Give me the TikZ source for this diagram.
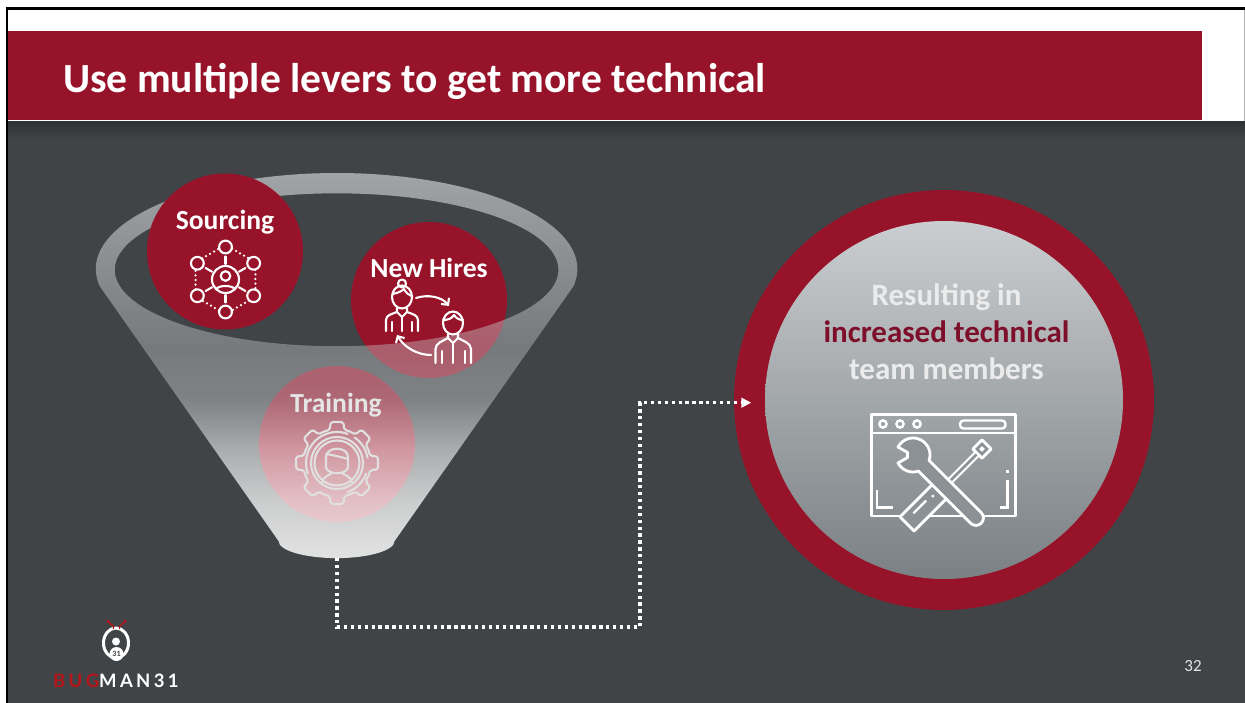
\documentclass[tikz,border=0pt]{standalone}
\usepackage{fontspec}
\setmainfont{Carlito}
\newfontfamily\logofont{Lato}
\usetikzlibrary{positioning, arrows.meta, calc, fadings}

\definecolor{slide}{HTML}{404447}
\definecolor{crimson}{HTML}{971329}
\definecolor{toolfill}{HTML}{8C9195}
\definecolor{darkcrimson}{HTML}{7D0F2A}
\definecolor{logored}{HTML}{B8151B}
\definecolor{resulttop}{HTML}{CBCED0}
\definecolor{resultbottom}{HTML}{7A8084}
\definecolor{funnelgray}{HTML}{C8CCCF}
\definecolor{funnelrim}{HTML}{CCD0D3}

% Funnel gradient
\pgfdeclareverticalshading{funnelcolor}{100bp}{color(0bp)=(white); color(39bp)=(white); color(45.5bp)=(funnelgray); color(52bp)=(funnelgray); color(75bp)=(funnelrim); color(100bp)=(funnelrim)}
\pgfdeclareverticalshading{funnelalpha}{100bp}{color(0bp)=(transparent!15); color(25bp)=(transparent!15); color(32.5bp)=(transparent!27); color(39bp)=(transparent!44); color(45.5bp)=(transparent!54); color(52bp)=(transparent!60); color(75bp)=(transparent!30); color(100bp)=(transparent!30)}
\pgfdeclarefading{funnelfade}{\pgfuseshading{funnelalpha}}

\begin{document}
\begin{tikzpicture}[x=1pt,y=-1pt,
  lever/.style={circle,fill=crimson,minimum size=156pt,inner sep=0pt},
  levertext/.style={font=\bfseries\fontsize{27.6}{30}\selectfont,text=white,inner sep=0pt},
  iconline/.style={draw=white,line width=2.1pt,line cap=round,line join=round},
  toolline/.style={draw=white,line width=2.8pt,line join=round},
  dotline/.style={draw=white,line width=3.3pt,dash pattern=on 3.3pt off 3.6pt}]
\useasboundingbox (0,0) rectangle (1245,703);

% Slide
\fill[white] (0,0) rectangle (1245,703);
\fill[slide] (8,121.5) rectangle (1245,703);
\shade[top color=black!25!slide,bottom color=slide] (8,121.5) rectangle (1245,140);
\fill[crimson] (8,31) rectangle (1202,120);
\draw[line width=3pt] (6,8.5) -- (1245,8.5);
\draw[line width=2.5pt] (7,8) -- (7,703);
\draw[black!30,line width=1pt] (1244.5,10) -- (1244.5,121);

\node[anchor=west,inner sep=0pt,text=white,font=\bfseries\fontsize{41.5}{44}\selectfont] (title) at (63,81.5) {Use multiple levers to get more technical};

% Levers under the funnel
\node[lever] (hires) at (429,300) {};
\node[lever] (training) at (337,444) {};

% Funnel
\shade[shading=funnelcolor,path fading=funnelfade,even odd rule]
  (100,286) arc[start angle=169.6,end angle=370.4,x radius=241,y radius=96]
  -- (395,541) arc[start angle=0,end angle=180,x radius=58,y radius=17] -- cycle
  (337,269.5) ellipse[x radius=222,y radius=76.5];
\coordinate (funnelbottom) at (337,558);

% Sourcing
\node[lever] (sourcing) at (225,251.5) {};
\node[levertext,above=29.5pt of sourcing.center,anchor=center] (sourcinglabel) {Sourcing};
\node[levertext,above=32pt of hires.center,anchor=center] (hireslabel) {New Hires};
\node[levertext,above=38.5pt of training.center,anchor=center,text=white!90!black,xshift=-1pt] (traininglabel) {Training};

% Sourcing icon
\begin{scope}[shift={(225.5,279.5)}]
  \draw[iconline] (0,0) circle (13.5);
  \draw[iconline] (0,-3.5) circle (4.8);
  \draw[iconline] (-9.5,9.5) .. controls (-6,5.5) and (6,5.5) .. (9.5,9.5);
  \foreach \a in {30,90,...,330} {
    \draw[iconline] (\a:32.5) circle (6.4);
    \draw[iconline] (\a:15.5) -- (\a:23);
    \draw[iconline,line width=2.5pt,dash pattern=on 0pt off 4.6pt] (\a+12:31.5) -- (\a+48:31.5);
  }
\end{scope}

% New Hires icon
\begin{scope}[iconline]
  % woman
  \draw (402,297) ellipse[x radius=10,y radius=11.5];
  \draw (402,283.5) circle (4);
  \draw (392.5,294) .. controls (398,293) and (402,291) .. (404,289) .. controls (406,293) and (409,295) .. (411.5,296);
  \draw (397,308) -- (397,312) -- (402,317) -- (407,312) -- (407,308);
  \draw (386,331) -- (386,320) .. controls (386,315) and (392,314) .. (397,312);
  \draw (418,331) -- (418,320) .. controls (418,315) and (412,314) .. (407,312);
  \draw (392,331) -- (392,322);
  \draw (412,331) -- (412,322);
  \draw (402,317) -- (402,331);
  % man
  \draw (453,323) ellipse[x radius=10,y radius=11.5];
  \draw (443,320) .. controls (449,320) and (452,318) .. (454,315) .. controls (456,318) and (459,320) .. (463,320);
  \draw (448,334) -- (448,338) -- (453,343) -- (458,338) -- (458,334);
  \draw (435.5,363) -- (435.5,349) .. controls (435.5,343) and (443,341) .. (448,338);
  \draw (471,363) -- (471,349) .. controls (471,343) and (463,341) .. (458,338);
  \draw (442,363) -- (442,351);
  \draw (465,363) -- (465,351);
  \draw (453,343) -- (453,363);
  % exchange arrows
  \coordinate (womanout) at (416,298);
  \coordinate (manin) at (449,306);
  \coordinate (manout) at (431,355);
  \coordinate (womanin) at (397,335);
  \draw[-{Straight Barb[length=5pt]}] (womanout) .. controls (428,294) and (442,297) .. (manin);
  \draw[-{Straight Barb[length=5pt]}] (manout) .. controls (417,355) and (404,347) .. (womanin);
\end{scope}

% Training icon
\begin{scope}[shift={(337,463)},iconline,draw=white!88!black]
  \foreach \a in {0,45,...,315} {
    \draw[rounded corners=2pt] (\a-24:34) -- (\a-12:34) -- (\a-9:41.5) -- (\a+9:41.5) -- (\a+12:34) -- (\a+21:34);
  }
  \draw (0,0) circle (26);
  \draw (0,0) circle (22.5);
  \draw (-70:31) arc[start angle=-70,end angle=-200,radius=31];
  \draw (-55:31) arc[start angle=-55,end angle=-10,radius=31];
  \draw (20:31) arc[start angle=20,end angle=70,radius=31];
  \draw (-11,-6) .. controls (-11,-17) and (11,-17) .. (11,-6) -- (11,5) .. controls (8,12) and (-8,12) .. (-11,5) -- cycle;
  \draw (-11,-9) .. controls (-4,-8) and (4,-6) .. (11,-4);
  \draw (-15,20) .. controls (-14,13) and (-7,12) .. (-5,10);
  \draw (15,20) .. controls (14,13) and (7,12) .. (5,10);
\end{scope}

% Result
\node[circle,fill=crimson,minimum size=420pt,inner sep=0pt] (ring) at (944,400) {};
\node[circle,top color=resulttop,bottom color=resultbottom,minimum size=358pt,inner sep=0pt] (result) at (ring.center) {};
\node[align=center,inner sep=0pt,font=\bfseries\fontsize{31}{37}\selectfont,text=white!92!black,above=68.5pt of result.center,anchor=center,xshift=2.5pt] (resulttext) {Resulting in\\ \textcolor{darkcrimson}{increased technical}\\ team members};

% Tools icon
\draw[toolline] (871.5,414.5) rectangle (1015.5,516);
\draw[toolline] (871.5,433) -- (1015.5,433);
\foreach \x in {883,900,917} {
  \draw[white,line width=2.4pt] (\x,424) circle (3.6);
}
\draw[white,line width=2.4pt,rounded corners=3.5pt] (960,420.5) rectangle (1005.5,428.5);
\draw[white,line width=2.6pt] (877,490) -- (877,507.5) -- (893,507.5);
\draw[white,line width=2.6pt] (1007.5,480) -- (1007.5,507.5) -- (1000,507.5);
\fill[white] (1006,469.5) rectangle (1009,473);
\begin{scope}[shift={(982,449)},rotate=-135]
  \draw[toolline,fill=toolfill] (-6.5,-6.5) rectangle (6.5,6.5);
  \fill[white] (-2,-2) rectangle (2,2);
  \draw[toolline,line width=1.9pt,fill=toolfill] (6.5,-2.5) rectangle (60,2.5);
  \draw[toolline,fill=toolfill] (60,-10) rectangle (106,10);
  \draw[white,line width=2.4pt] (76,3) -- (94,3);
  \fill[white] (68,1.5) circle (1.8);
\end{scope}
\begin{scope}[shift={(913,455)},rotate=-45]
  \draw[toolline,fill=toolfill] (163:17) arc[start angle=163,end angle=334,radius=17]
    -- (89,-7.5) arc[start angle=-90,end angle=90,radius=7.5]
    -- (26:17) arc[start angle=26,end angle=107,radius=17] -- (110:6) -- (160:6) -- cycle;
\end{scope}

% Connector
\coordinate (bendlow) at (640,627);
\coordinate (bendhigh) at (640,402.7);
\coordinate (ringin) at ($(ring.west)+(17.5,2.7)$);
\draw[dotline,-{Triangle[length=10pt,width=9.5pt]}] (funnelbottom) |- (bendlow) -- (bendhigh) -- (ringin);

% Logo
\draw[white,line width=3pt] (116,643) ellipse[x radius=12.5,y radius=15];
\fill[white] (116,641.5) circle (4);
\node[circle,fill=white,minimum size=14pt,inner sep=0pt,text=slide,font=\bfseries\fontsize{8}{8}\selectfont] (logobody) at (116.5,654) {31};
\draw[logored,line width=1.3pt] (108,621.5) -- (113.5,626.5) -- (113.5,629) (125,621.5) -- (119.5,626.5) -- (119.5,629);
\fill[logored] (108,621.5) circle (1.7) (125,621.5) circle (1.7);
\node[anchor=west,inner sep=0pt,font=\logofont\bfseries\fontsize{18.5}{20}\selectfont,text=white] (logotext) at (53,680.5) {\addfontfeature{LetterSpace=18}\textcolor{logored}{BUG}MAN31};

% Page number
\node[text=white!90!black,inner sep=0pt,font=\fontsize{17}{18}\selectfont] (pagenumber) at (1193,666) {32};

\end{tikzpicture}
\end{document}
